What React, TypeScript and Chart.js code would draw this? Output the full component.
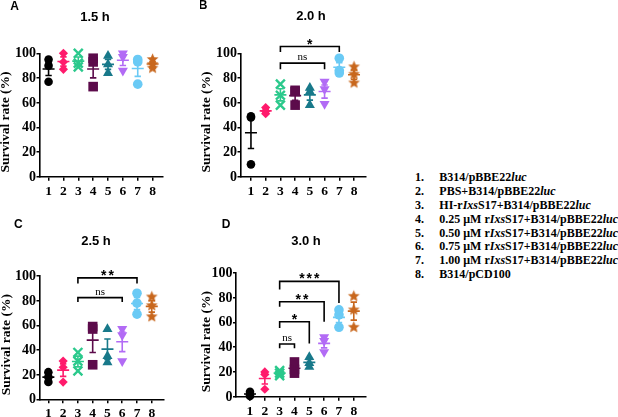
import React, { useEffect, useRef } from "react";
import { Chart, registerables } from "chart.js";

Chart.register(...registerables);

// ---------- data ----------
const groupLabels = ["1", "2", "3", "4", "5", "6", "7", "8"];
const yTickValues = [0, 20, 40, 60, 80, 100];
const panelLetters = ["A", "B", "C", "D"];
const panelTitles = ["1.5 h", "2.0 h", "2.5 h", "3.0 h"];

const values15h = [[95, 90, 77], [100, 93, 87], [100, 92, 89], [96, 93, 73], [98, 91, 84], [100, 97, 86], [95, 93, 75], [95, 91, 88]];
const values20h = [[49, 48, 10], [56, 53, 51], [75, 66, 58], [70, 69, 58], [72, 69, 58], [77, 71, 59], [96, 86, 84], [89, 83, 76]];
const values25h = [[22, 18, 14], [31, 26, 14], [38, 31, 23], [59, 57, 28], [57, 35, 30], [57, 52, 31], [86, 78, 69], [83, 76, 67]];
const values30h = [[4, 2, 0.5], [20, 18, 6], [21, 19, 17], [28, 22, 19], [32, 27, 24], [48, 45, 36], [70, 66, 56], [81, 70, 56]];

const brackets15h: any[] = [];
const brackets20h = [
  { from: 3, to: 6, level: 92, leftEnd: 87, rightEnd: 87, label: "ns" },
  { from: 3, to: 7, level: 105.5, leftEnd: 101, rightEnd: 101, label: "*" },
];
const brackets25h = [
  { from: 3, to: 6, level: 82.5, leftEnd: 79, rightEnd: 79, label: "ns" },
  { from: 3, to: 7, level: 98.5, leftEnd: 94, rightEnd: 94, label: "**" },
];
const brackets30h = [
  { from: 3, to: 4, level: 42.5, leftEnd: 39, rightEnd: 39, label: "ns" },
  { from: 3, to: 5, level: 60.5, leftEnd: 55.5, rightEnd: 43, label: "*" },
  { from: 3, to: 6, level: 76.6, leftEnd: 72.5, rightEnd: 60.5, label: "**" },
  { from: 3, to: 7, level: 93, leftEnd: 86.5, rightEnd: 75.5, label: "***" },
];

const legendNumbers = ["1.", "2.", "3.", "4.", "5.", "6.", "7.", "8."];
const legendTexts: [string, boolean][][] = [
  [["B314/pBBE22", false], ["luc", true]],
  [["PBS+B314/pBBE22", false], ["luc", true]],
  [["HI-r", false], ["Ixs", true], ["S17+B314/pBBE22", false], ["luc", true]],
  [["0.25 μM r", false], ["Ixs", true], ["S17+B314/pBBE22", false], ["luc", true]],
  [["0.50 μM r", false], ["Ixs", true], ["S17+B314/pBBE22", false], ["luc", true]],
  [["0.75 μM r", false], ["Ixs", true], ["S17+B314/pBBE22", false], ["luc", true]],
  [["1.00 μM r", false], ["Ixs", true], ["S17+B314/pBBE22", false], ["luc", true]],
  [["B314/pCD100", false]],
];

// ---------- styles ----------
const groupColors = ["#000000", "#FF1A6C", "#2BC98C", "#5C0B4B", "#18798A", "#B26BF5", "#6ACAF5", "#C8671D"];
const groupShapes = ["circle", "rectRot", "crossRot", "rect", "triangle", "triangleDown", "circle", "star5"];
const groupRadius = [4.3, 4.6, 6.3, 6.8, 5.8, 5.8, 4.8, 6.2];

const SERIF = "'Liberation Serif', 'Times New Roman', serif";
const SANS = "'Liberation Sans', Arial, sans-serif";

const panels = [
  { values: values15h, brackets: brackets15h, qx: 0, qy: 0, qw: 200, qh: 208, left: 39.5, right: 163, top: 53.3, bottom: 176.7, xmin: 0.39, xmax: 8.7, letter: [14.5, 6.7], title: [95, 17.5], ytitleX: 6 },
  { values: values20h, brackets: brackets20h, qx: 200, qy: 0, qw: 200, qh: 208, left: 240.5, right: 365.5, top: 53.3, bottom: 176.7, xmin: 0.29, xmax: 8.78, letter: [203, 6], title: [311, 16.5], ytitleX: 206.5 },
  { values: values25h, brackets: brackets25h, qx: 0, qy: 208, qw: 200, qh: 209, left: 39.5, right: 163.3, top: 276, bottom: 399.3, xmin: 0.4, xmax: 8.78, letter: [18.3, 225], title: [96, 241], ytitleX: 6.3 },
  { values: values30h, brackets: brackets30h, qx: 200, qy: 208, qw: 200, qh: 209, left: 236, right: 365.5, top: 272.7, bottom: 396.7, xmin: 0.056, xmax: 8.79, letter: [226, 225], title: [306, 241], ytitleX: 206.5 },
];

function makeStar(color: string, r: number) {
  const s = Math.ceil(r * 2 + 2);
  const c = document.createElement("canvas");
  c.width = s;
  c.height = s;
  const g = c.getContext("2d")!;
  g.beginPath();
  for (let i = 0; i < 10; i++) {
    const a = -Math.PI / 2 + (i * Math.PI) / 5;
    const rr = i % 2 === 0 ? r : r * 0.45;
    g.lineTo(s / 2 + rr * Math.cos(a), s / 2 + rr * Math.sin(a));
  }
  g.closePath();
  g.fillStyle = color;
  g.fill();
  return c;
}

function Panel({ idx }: { idx: number }) {
  const ref = useRef<HTMLCanvasElement | null>(null);
  const p = panels[idx];

  useEffect(() => {
    if (!ref.current) return;
    const datasets = p.values.map((vals, i) => {
      const shape = groupShapes[i];
      let pointStyle: any = shape;
      let rotation = 0;
      if (shape === "triangleDown") {
        pointStyle = "triangle";
        rotation = 180;
      }
      if (shape === "star5") pointStyle = makeStar(groupColors[i], groupRadius[i]);
      return {
        label: groupLabels[i],
        data: vals.map((v) => ({ x: i + 1, y: v })),
        pointStyle,
        rotation,
        pointRadius: groupRadius[i],
        backgroundColor: groupColors[i],
        borderColor: groupColors[i],
        borderWidth: shape === "crossRot" ? 2.4 : 0,
        showLine: false,
        clip: false as any,
      };
    });

    const decor = {
      id: "decor" + idx,
      afterDraw(chart: any) {
        const { ctx, scales } = chart;
        const x = scales.x;
        const y = scales.y;
        ctx.save();
        // mean ± SEM
        p.values.forEach((vals, i) => {
          const n = vals.length;
          const mean = vals.reduce((a, b) => a + b, 0) / n;
          const sd = Math.sqrt(vals.reduce((a, b) => a + (b - mean) ** 2, 0) / (n - 1));
          const sem = sd / Math.sqrt(n);
          const px = x.getPixelForValue(i + 1);
          const pm = y.getPixelForValue(mean);
          const pt = y.getPixelForValue(mean + sem);
          const pb = y.getPixelForValue(mean - sem);
          ctx.strokeStyle = groupColors[i];
          ctx.lineWidth = 1.6;
          ctx.beginPath();
          ctx.moveTo(px - 6, pm);
          ctx.lineTo(px + 6, pm);
          ctx.moveTo(px, pt);
          ctx.lineTo(px, pb);
          ctx.moveTo(px - 3.2, pt);
          ctx.lineTo(px + 3.2, pt);
          ctx.moveTo(px - 3.2, pb);
          ctx.lineTo(px + 3.2, pb);
          ctx.stroke();
        });
        // significance brackets
        p.brackets.forEach((b: any) => {
          const x1 = x.getPixelForValue(b.from);
          const x2 = x.getPixelForValue(b.to);
          const yl = y.getPixelForValue(b.level);
          ctx.strokeStyle = "#000";
          ctx.lineWidth = 1.6;
          ctx.beginPath();
          ctx.moveTo(x1, y.getPixelForValue(b.leftEnd));
          ctx.lineTo(x1, yl);
          ctx.lineTo(x2, yl);
          ctx.lineTo(x2, y.getPixelForValue(b.rightEnd));
          ctx.stroke();
          ctx.fillStyle = "#000";
          ctx.textAlign = "center";
          ctx.textBaseline = "alphabetic";
          const cx = (x1 + x2) / 2;
          if (b.label === "ns") {
            ctx.font = `11px ${SERIF}`;
            ctx.fillText("ns", cx, yl - 3);
          } else {
            ctx.font = `bold 14px ${SANS}`;
            (ctx as any).letterSpacing = "2px";
            ctx.fillText(b.label, cx + 1, yl + 2);
            (ctx as any).letterSpacing = "0px";
          }
        });
        // tick labels
        ctx.fillStyle = "#000";
        ctx.textBaseline = "middle";
        ctx.textAlign = "center";
        ctx.font = `bold 13.5px ${SERIF}`;
        groupLabels.forEach((lab, i) => {
          ctx.fillText(lab, x.getPixelForValue(i + 1), y.bottom + 14.5);
        });
        ctx.textAlign = "right";
        ctx.font = `bold 14px ${SERIF}`;
        yTickValues.forEach((v) => {
          ctx.fillText(String(v), x.left - 3.5, y.getPixelForValue(v) + 0.5);
        });
        // letter, title, y title
        ctx.textAlign = "center";
        ctx.font = `bold 12px ${SANS}`;
        ctx.fillText(panelLetters[idx], p.letter[0] - p.qx, p.letter[1] - p.qy);
        ctx.font = `bold 13px ${SANS}`;
        ctx.fillText(panelTitles[idx], p.title[0] - p.qx, p.title[1] - p.qy);
        ctx.translate(p.ytitleX - p.qx, (p.top + p.bottom) / 2 + 7 - p.qy);
        ctx.rotate(-Math.PI / 2);
        ctx.font = `bold 13.5px ${SERIF}`;
        ctx.fillText("Survival rate (%)", 0, 0);
        ctx.restore();
      },
    };

    const chart = new Chart(ref.current, {
      type: "scatter",
      data: { datasets: datasets as any },
      options: {
        animation: false,
        responsive: false,
        devicePixelRatio: 1,
        events: [],
        layout: {
          padding: {
            left: 0,
            top: p.top - p.qy,
            right: p.qx + p.qw - p.right,
            bottom: p.qy + p.qh - p.bottom - 12,
          },
        },
        plugins: { legend: { display: false }, tooltip: { enabled: false }, title: { display: false } },
        scales: {
          x: {
            type: "linear",
            min: p.xmin,
            max: p.xmax,
            afterFit: (s: any) => {
              s.height = 12;
            },
            afterBuildTicks: (s: any) => {
              s.ticks = groupLabels.map((_, i) => ({ value: i + 1 }));
            },
            ticks: {
              autoSkip: false,
              maxRotation: 0,
              padding: 1,
              color: "rgba(0,0,0,0)",
              font: { family: SERIF, size: 12, weight: "bold" },
              callback: (v: any) => groupLabels[Math.round(v) - 1] ?? "",
            },
            grid: { drawOnChartArea: false, drawTicks: true, tickLength: 4, color: "#000", lineWidth: 1.5 },
            border: { display: true, color: "#000", width: 1.6 },
          },
          y: {
            type: "linear",
            min: 0,
            max: 100,
            afterFit: (s: any) => {
              s.width = p.left - p.qx;
            },
            afterBuildTicks: (s: any) => {
              s.ticks = yTickValues.map((v) => ({ value: v }));
            },
            ticks: {
              padding: 1,
              color: "rgba(0,0,0,0)",
              font: { family: SERIF, size: 12, weight: "bold" },
            },
            grid: { drawOnChartArea: false, drawTicks: true, tickLength: 3, color: "#000", lineWidth: 1.5 },
            border: { display: true, color: "#000", width: 1.6 },
          },
        },
      },
      plugins: [decor as any],
    });
    return () => chart.destroy();
  }, []);

  return (
    <canvas
      ref={ref}
      width={p.qw}
      height={p.qh}
      style={{ position: "absolute", left: p.qx, top: p.qy, width: p.qw, height: p.qh }}
    />
  );
}

export default function App() {
  return (
    <div style={{ position: "absolute", left: 0, top: 0, width: 618, height: 417, background: "#fff", overflow: "hidden" }}>
      {panels.map((_, i) => (
        <Panel key={i} idx={i} />
      ))}
      {legendNumbers.map((num, i) => {
        const cy = 177.3 + i * 13.8;
        const parts = legendTexts[i];
        const common: React.CSSProperties = {
          position: "absolute",
          top: cy - 7,
          height: 14,
          lineHeight: "14px",
          fontFamily: SERIF,
          fontWeight: "bold",
          fontSize: 12,
          whiteSpace: "nowrap",
          color: "#000",
        };
        return (
          <React.Fragment key={i}>
            <div style={{ ...common, left: 415 }}>{num}</div>
            <div style={{ ...common, left: 439.3 }}>
              {parts.map(([t, it], j) => (
                <span key={j} style={{ fontStyle: it ? "italic" : "normal" }}>
                  {t}
                </span>
              ))}
            </div>
          </React.Fragment>
        );
      })}
    </div>
  );
}
